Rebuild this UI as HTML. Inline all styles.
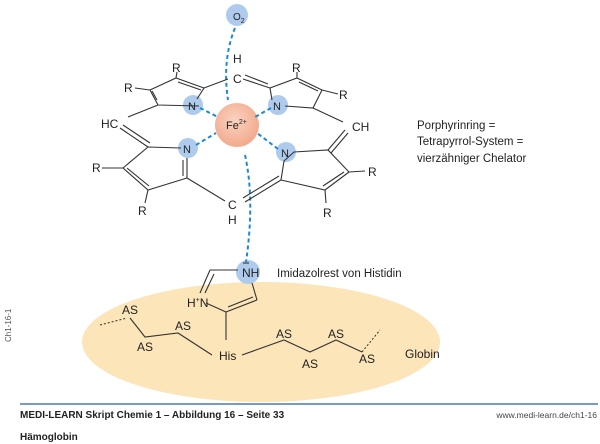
<!DOCTYPE html>
<html><head><meta charset="utf-8"><style>
html,body{margin:0;padding:0;background:#fff;}
svg{display:block;}
text{font-family:"Liberation Sans",sans-serif;fill:#222;}
</style></head><body>
<svg width="600" height="444" viewBox="0 0 600 444" xmlns="http://www.w3.org/2000/svg">
<defs>
<radialGradient id="fe" cx="0.45" cy="0.4" r="0.6"><stop offset="0" stop-color="#fbd3c2"/><stop offset="1" stop-color="#f2a98c"/></radialGradient>
</defs>
<ellipse cx="261" cy="342" rx="179" ry="60" fill="#fce5b8"/>
<circle cx="237" cy="15" r="11" fill="#aecbee"/>
<circle cx="237" cy="125" r="22" fill="url(#fe)"/>
<circle cx="193" cy="105" r="10" fill="#aecbee"/>
<circle cx="278" cy="105" r="10" fill="#aecbee"/>
<circle cx="188" cy="148" r="10" fill="#aecbee"/>
<circle cx="286" cy="152" r="10" fill="#aecbee"/>
<circle cx="248" cy="272" r="12" fill="#aecbee"/>
<g stroke="#1a8ad6" stroke-width="2" fill="none" stroke-dasharray="4,3">
<path d="M235 28 Q222 60 228 100"/>
<path d="M245 155 Q255 200 246 262"/>
<line x1="200" y1="108" x2="218" y2="117"/>
<line x1="271" y1="108" x2="255" y2="117"/>
<line x1="196" y1="145" x2="216" y2="133"/>
<line x1="278" y1="149" x2="257" y2="133"/>
</g>
<g stroke="#333" stroke-width="1" fill="none" stroke-dasharray="2,2">
<line x1="100" y1="325" x2="127" y2="318"/>
<line x1="362" y1="352" x2="380" y2="330"/>
</g>
<g stroke="#333" stroke-width="1.1" fill="none">
<polyline points="199,106 158,105 150,90 176,78 204,88 197,99"/>
<line x1="157" y1="100" x2="152" y2="91"/>
<line x1="178" y1="82" x2="201" y2="90"/>
<line x1="150" y1="90" x2="135" y2="88"/>
<line x1="176" y1="78" x2="177" y2="72"/>
<line x1="158" y1="105" x2="128" y2="117"/>
<line x1="204" y1="88" x2="228" y2="79"/>
<line x1="243" y1="79" x2="270" y2="88"/><line x1="245" y1="75" x2="268" y2="84"/>
<polyline points="272,100 270,88 297,78 322,90 313,108 285,106"/>
<line x1="299" y1="82" x2="318" y2="91"/>
<line x1="297" y1="78" x2="297" y2="72"/>
<line x1="322" y1="90" x2="338" y2="94"/>
<line x1="313" y1="108" x2="343" y2="122"/>
<line x1="120" y1="128" x2="148" y2="147"/><line x1="123" y1="125" x2="150" y2="143"/>
<polyline points="181,148 148,147 123,168 148,190 187,178 187,158"/>
<line x1="127" y1="168" x2="149" y2="186"/>
<line x1="183" y1="176" x2="183" y2="160"/>
<line x1="123" y1="168" x2="102" y2="168"/>
<line x1="148" y1="190" x2="145" y2="203"/>
<line x1="187" y1="178" x2="225" y2="201"/>
<line x1="245" y1="202" x2="281" y2="180"/><line x1="243" y1="198" x2="279" y2="176"/>
<polyline points="281,180 284,161 294,152 328,150 349,172 325,190 281,180"/>
<line x1="344" y1="172" x2="323" y2="186"/>
<line x1="349" y1="172" x2="365" y2="171"/>
<line x1="325" y1="190" x2="326" y2="203"/>
<line x1="328" y1="150" x2="345" y2="130"/><line x1="331" y1="153" x2="348" y2="133"/>
<line x1="238" y1="270" x2="210" y2="270"/>
<line x1="210" y1="270" x2="200" y2="293"/><line x1="214" y1="274" x2="205" y2="293"/>
<line x1="206" y1="303" x2="226" y2="312"/>
<line x1="226" y1="312" x2="257" y2="300"/><line x1="228" y1="307" x2="253" y2="297"/>
<line x1="257" y1="300" x2="252" y2="283"/>
<line x1="226" y1="312" x2="226" y2="340"/>
<line x1="243" y1="263" x2="249" y2="263"/>
<polyline points="130,318 145,337 178,333 212,355"/>
<polyline points="242,355 284,340 310,352 336,340 362,352"/>
</g>
<g font-size="12">
<text x="233" y="20" font-size="10">O<tspan font-size="7" dy="3">2</tspan></text>
<text x="226" y="129" font-size="11">Fe<tspan font-size="7" dy="-5">2+</tspan></text>
<text x="188" y="110" font-size="11">N</text>
<text x="273" y="110" font-size="11">N</text>
<text x="183" y="153" font-size="11">N</text>
<text x="281" y="157" font-size="11">N</text>
<text x="172" y="72">R</text>
<text x="124" y="92">R</text>
<text x="292" y="72">R</text>
<text x="339" y="99">R</text>
<text x="233" y="63">H</text>
<text x="233" y="83">C</text>
<text x="101" y="128">HC</text>
<text x="352" y="131">CH</text>
<text x="92" y="172">R</text>
<text x="138" y="215">R</text>
<text x="368" y="176">R</text>
<text x="323" y="217">R</text>
<text x="228" y="209">C</text>
<text x="228" y="224">H</text>
<text x="242" y="277">NH</text>
<text x="187" y="307">H<tspan font-size="7" dy="-5">+</tspan><tspan dy="5">N</tspan></text>
<text x="277" y="277" font-size="11.5">Imidazolrest von Histidin</text>
<text x="122" y="314">AS</text>
<text x="175" y="330">AS</text>
<text x="137" y="351">AS</text>
<text x="219" y="360">His</text>
<text x="276" y="338">AS</text>
<text x="302" y="368">AS</text>
<text x="328" y="338">AS</text>
<text x="359" y="363">AS</text>
<text x="405" y="358">Globin</text>
<text x="417" y="129" font-size="11.5">Porphyrinring =</text>
<text x="417" y="145" font-size="11.5">Tetrapyrrol-System =</text>
<text x="417" y="162" font-size="11.5">vierzähniger Chelator</text>
</g>
<text x="11" y="342" font-size="8" transform="rotate(-90 11 342)" style="fill:#555">Ch1-16-1</text>
<line x1="20" y1="404" x2="598" y2="404" stroke="#4a78b8" stroke-width="1.5"/>
<text x="20" y="418" font-size="10" font-weight="bold">MEDI-LEARN Skript Chemie 1 – Abbildung 16 – Seite 33</text>
<text x="597" y="418" font-size="8.5" text-anchor="end" style="fill:#444">www.medi-learn.de/ch1-16</text>
<text x="20" y="440" font-size="10" font-weight="bold">Hämoglobin</text>
</svg>
</body></html>
